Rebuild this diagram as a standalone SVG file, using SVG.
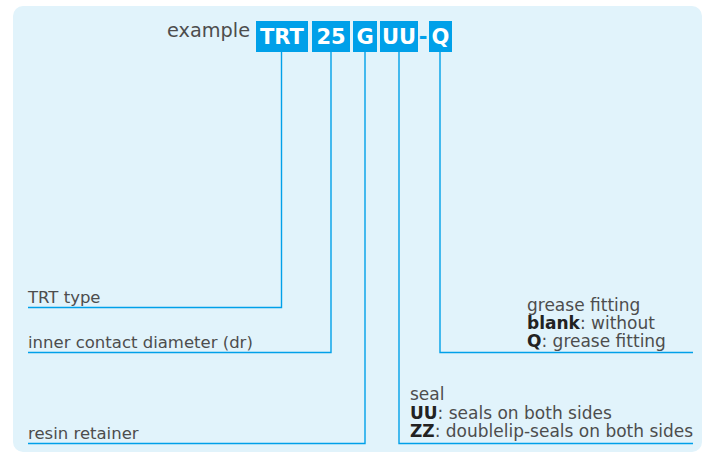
<svg xmlns="http://www.w3.org/2000/svg" width="702" height="453" viewBox="0 0 702 453">
<style>
.bg{fill:#e1f3fb}
.box{fill:#00a0e9}
.bt{font-family:"DejaVu Sans",sans-serif;font-weight:bold;font-size:21px;fill:#fff;text-anchor:middle}
.t{font-family:"DejaVu Sans",sans-serif;font-size:16.5px;fill:#4d4d4d}
.r{font-size:17px}
.b{font-weight:bold;fill:#222}
.ln{fill:none;stroke:#00a0e9;stroke-width:1.4}
</style>
<rect class="bg" x="13" y="6" width="689" height="446" rx="10"/>
<g id="code">
<text class="t" x="167" y="37" style="font-size:19.3px">example</text>
<g id="n-trt"><rect class="box" x="256" y="21" width="52" height="31"/><text class="bt" x="282" y="44">TRT</text></g>
<g id="n-25"><rect class="box" x="312" y="21" width="38" height="31"/><text class="bt" x="331" y="44">25</text></g>
<g id="n-g"><rect class="box" x="353" y="21" width="24" height="31"/><text class="bt" x="365" y="44">G</text></g>
<g id="n-uu"><rect class="box" x="380" y="21" width="38" height="31"/><text class="bt" x="399" y="44">UU</text></g>
<text class="bt" x="423" y="44" style="fill:#00a0e9">-</text>
<g id="n-q"><rect class="box" x="429" y="21" width="23" height="31"/><text class="bt" x="440.5" y="44">Q</text></g>
</g>
<g id="connectors">
<polyline class="ln" points="281.5,52 281.5,307.5 28,307.5"/>
<polyline class="ln" points="331,52 331,352.5 28,352.5"/>
<polyline class="ln" points="365,52 365,443.5 28,443.5"/>
<polyline class="ln" points="399,52 399,443.5 693,443.5"/>
<polyline class="ln" points="440,52 440,352.5 693,352.5"/>
</g>
<g id="l-trt"><text class="t" x="28" y="303">TRT type</text></g>
<g id="l-dr"><text class="t" x="28" y="348">inner contact diameter (dr)</text></g>
<g id="l-resin"><text class="t" x="28" y="438.5">resin retainer</text></g>
<g id="l-grease">
<text class="t r" x="527" y="311">grease fitting</text>
<text class="t r" x="527" y="329"><tspan class="b">blank</tspan>: without</text>
<text class="t r" x="527" y="347"><tspan class="b">Q</tspan>: grease fitting</text>
</g>
<g id="l-seal">
<text class="t r" x="410" y="400">seal</text>
<text class="t r" x="410" y="419"><tspan class="b">UU</tspan>: seals on both sides</text>
<text class="t r" x="410" y="437"><tspan class="b">ZZ</tspan>: doublelip-seals on both sides</text>
</g>
</svg>
